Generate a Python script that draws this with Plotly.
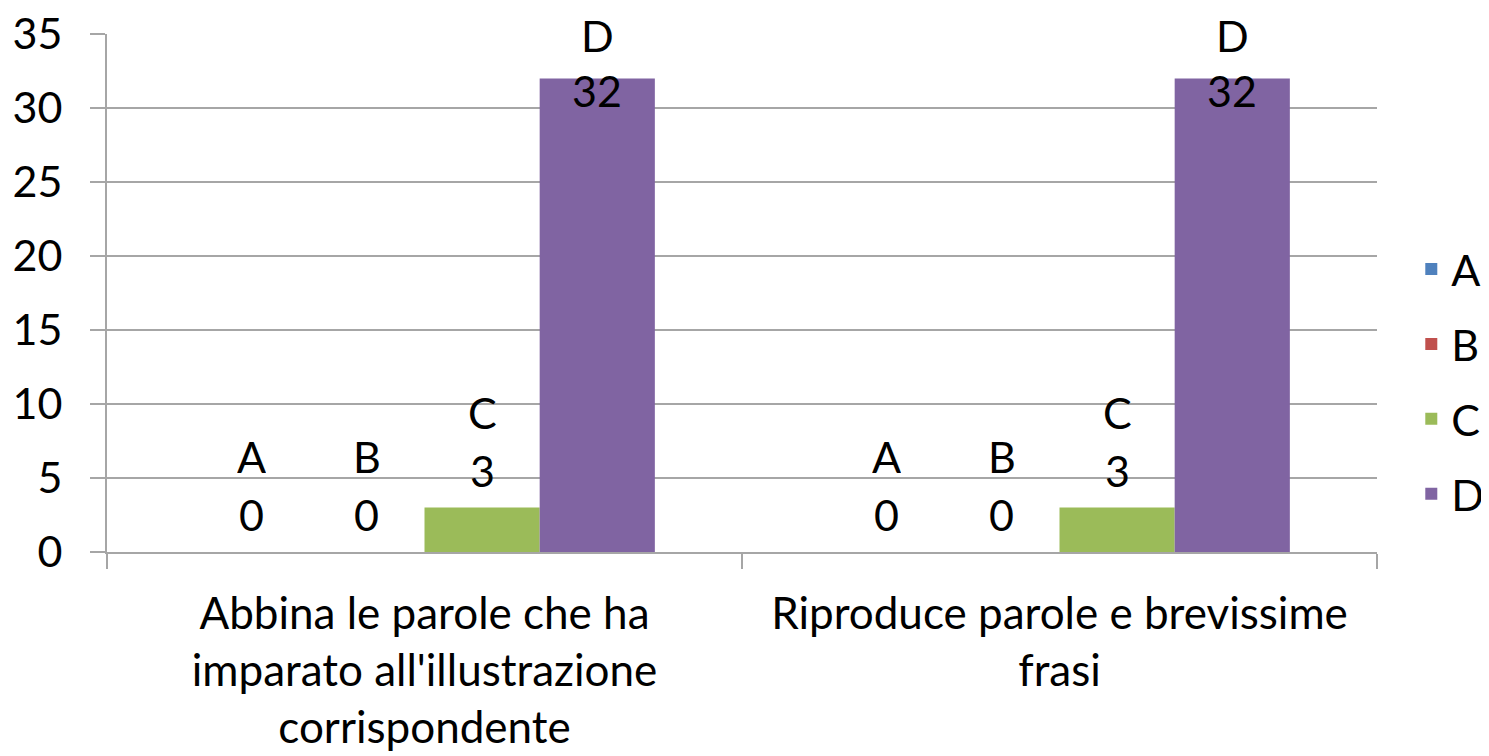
import plotly.graph_objects as go

categories = ["Abbina le parole che ha<br>imparato all'illustrazione<br>corrispondente",
              "Riproduce parole e brevissime<br>frasi"]
series_names = ["A", "B", "C", "D"]
series_values = {
    "A": [0, 0],
    "B": [0, 0],
    "C": [3, 3],
    "D": [32, 32],
}
colors = {"A": "#4F81BD", "B": "#C0504D", "C": "#9BBB59", "D": "#8064A2"}
y_ticks = [0, 5, 10, 15, 20, 25, 30, 35]

FONT = "Lato"
FS = 43
GRID = "#A6A6A6"
bargap = 0.2745
ymax = 35

ML, MR, MT, MB = 99, 112, 26, 204
W, H = 1481, 748
plot_h = H - MT - MB

fig = go.Figure()
for name in series_names:
    fig.add_trace(go.Bar(
        x=categories, y=series_values[name], name=name,
        marker=dict(color=colors[name], line=dict(width=0)),
        legendgroup=name,
    ))

# data labels (Excel-style "series name / value", outside end, clamped to chart area)
n = len(series_names)
bw = (1 - bargap) / n
annotations = []
for k, name in enumerate(series_names):
    off = -(1 - bargap) / 2 + bw * (k + 0.5)
    for i, v in enumerate(series_values[name]):
        top_px = MT + (ymax - v) / ymax * plot_h  # px of bar top in figure
        num_c = top_px - 38
        let_c = num_c - 58
        if let_c < 27:
            let_c = 27
            num_c = let_c + 55
        for txt, c in ((str(v), num_c), (name, let_c)):
            annotations.append(dict(
                x=i + off, xref="x", y=1 - (c - MT) / plot_h, yref="paper",
                text=txt, showarrow=False, xanchor="center", yanchor="middle",
                height=40, valign="middle", borderpad=0,
                font=dict(family=FONT, size=FS, color="#000000"),
            ))

fig.update_layout(
    width=W, height=H,
    margin=dict(l=ML, r=MR, t=MT, b=MB, autoexpand=False),
    paper_bgcolor="white", plot_bgcolor="white",
    barmode="group", bargap=bargap, bargroupgap=0,
    font=dict(family=FONT, size=FS, color="#000000"),
    showlegend=True,
    legend=dict(x=1.027, xanchor="left", y=0.329, yanchor="middle",
                font=dict(family=FONT, size=FS), tracegroupgap=16,
                bgcolor="rgba(0,0,0,0)"),
    annotations=annotations,
    xaxis=dict(
        type="category", automargin=False,
        showgrid=False, tickson="boundaries",
        ticks="outside", ticklen=15, tickcolor=GRID, tickwidth=2,
        showline=True, linecolor=GRID, linewidth=2,
        tickfont=dict(family=FONT, size=44), ticklabelstandoff=22,
    ),
    yaxis=dict(
        range=[0, ymax], tickmode="array", tickvals=y_ticks, automargin=False,
        showgrid=True, gridcolor=GRID, gridwidth=2,
        ticks="outside", ticklen=15, tickcolor=GRID, tickwidth=2,
        showline=True, linecolor=GRID, linewidth=2, zeroline=False,
        tickfont=dict(family=FONT, size=FS), ticklabelstandoff=19,
        ticklabeloverflow="allow",
    ),
)

fig.write_html("out.html")
